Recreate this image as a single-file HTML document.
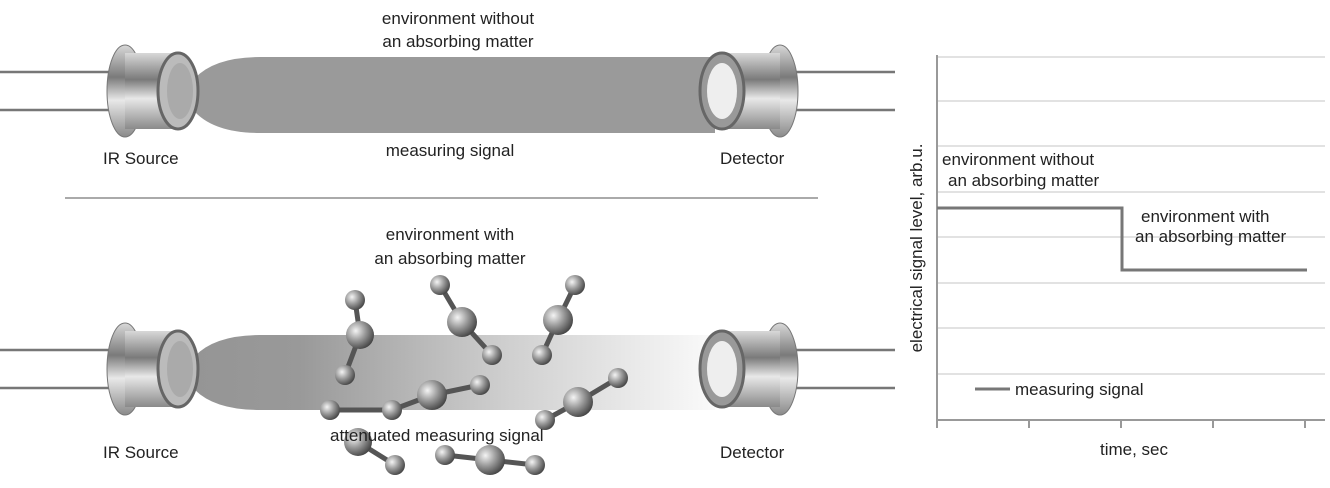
<!DOCTYPE html>
<html><head><meta charset="utf-8"><style>
html,body{margin:0;padding:0;background:#fff;}
svg{display:block;font-family:"Liberation Sans","DejaVu Sans",sans-serif;}
text{fill:#222;font-size:17px;}
</style></head><body>
<svg width="1330" height="488" viewBox="0 0 1330 488" xmlns="http://www.w3.org/2000/svg">
<defs>
<linearGradient id="metal" x1="0" y1="0" x2="0" y2="1">
<stop offset="0" stop-color="#d8d8d8"/><stop offset="0.35" stop-color="#7a7a7a"/><stop offset="0.6" stop-color="#e8e8e8"/><stop offset="1" stop-color="#8a8a8a"/></linearGradient>
<linearGradient id="fade" x1="0" y1="0" x2="1" y2="0">
<stop offset="0" stop-color="#959595"/><stop offset="0.2" stop-color="#999"/><stop offset="0.6" stop-color="#cfcfcf"/><stop offset="1" stop-color="#fafafa"/></linearGradient>
<radialGradient id="ball" cx="0.35" cy="0.35" r="0.7">
<stop offset="0" stop-color="#f4f4f4"/><stop offset="0.5" stop-color="#999"/><stop offset="1" stop-color="#444"/></radialGradient>
<g id="src">
<line x1="0" y1="-19" x2="110" y2="-19" stroke="#777" stroke-width="2.5"/>
<line x1="0" y1="19" x2="110" y2="19" stroke="#777" stroke-width="2.5"/>
<ellipse cx="125" cy="0" rx="18" ry="46" fill="url(#metal)" stroke="#777"/>
<rect x="125" y="-38" width="48" height="76" fill="url(#metal)"/>
<ellipse cx="178" cy="0" rx="20" ry="38" fill="#bbb" stroke="#666" stroke-width="3"/>
<ellipse cx="180" cy="0" rx="13" ry="28" fill="#aaa"/>
</g>
<g id="det">
<line x1="790" y1="-19" x2="895" y2="-19" stroke="#777" stroke-width="2.5"/>
<line x1="790" y1="19" x2="895" y2="19" stroke="#777" stroke-width="2.5"/>
<ellipse cx="780" cy="0" rx="18" ry="46" fill="url(#metal)" stroke="#777"/>
<rect x="722" y="-38" width="58" height="76" fill="url(#metal)"/>
<ellipse cx="722" cy="0" rx="22" ry="38" fill="#999" stroke="#666" stroke-width="3"/>
<ellipse cx="722" cy="0" rx="15" ry="28" fill="#eee"/>
</g>
</defs>
<path d="M195,78 Q215,57 260,57 L715,57 L715,133 L260,133 Q215,133 195,112 Z" fill="#9a9a9a"/>
<use href="#src" y="91"/>
<use href="#det" y="91"/>
<text x="458" y="24" text-anchor="middle">environment without</text>
<text x="458" y="47" text-anchor="middle">an absorbing matter</text>
<text x="450" y="156" text-anchor="middle">measuring signal</text>
<text x="103" y="164">IR Source</text>
<text x="720" y="164">Detector</text>
<line x1="65" y1="198" x2="818" y2="198" stroke="#aaa" stroke-width="2"/>
<path d="M195,356 Q215,335 260,335 L715,335 L715,410 L260,410 Q215,410 195,390 Z" fill="url(#fade)"/>
<use href="#src" y="369"/>
<use href="#det" y="369"/>
<text x="450" y="240" text-anchor="middle">environment with</text>
<text x="450" y="264" text-anchor="middle">an absorbing matter</text>
<text x="103" y="458">IR Source</text>
<text x="720" y="458">Detector</text>
<g stroke="#555" stroke-width="5">
<line x1="355" y1="300" x2="360" y2="335"/><line x1="360" y1="335" x2="345" y2="375"/>
<line x1="440" y1="285" x2="462" y2="322"/><line x1="462" y1="322" x2="492" y2="355"/>
<line x1="575" y1="285" x2="558" y2="320"/><line x1="558" y1="320" x2="542" y2="355"/>
<line x1="330" y1="410" x2="392" y2="410"/><line x1="392" y1="410" x2="432" y2="395"/><line x1="432" y1="395" x2="480" y2="385"/>
<line x1="545" y1="420" x2="578" y2="402"/><line x1="578" y1="402" x2="618" y2="378"/>
<line x1="358" y1="442" x2="395" y2="465"/>
<line x1="445" y1="455" x2="490" y2="460"/><line x1="490" y1="460" x2="535" y2="465"/>
</g>
<g fill="url(#ball)">
<circle cx="355" cy="300" r="10"/><circle cx="360" cy="335" r="14"/><circle cx="345" cy="375" r="10"/>
<circle cx="440" cy="285" r="10"/><circle cx="462" cy="322" r="15"/><circle cx="492" cy="355" r="10"/>
<circle cx="575" cy="285" r="10"/><circle cx="558" cy="320" r="15"/><circle cx="542" cy="355" r="10"/>
<circle cx="330" cy="410" r="10"/><circle cx="392" cy="410" r="10"/><circle cx="432" cy="395" r="15"/><circle cx="480" cy="385" r="10"/>
<circle cx="545" cy="420" r="10"/><circle cx="578" cy="402" r="15"/><circle cx="618" cy="378" r="10"/>
<circle cx="358" cy="442" r="14"/><circle cx="395" cy="465" r="10"/>
<circle cx="445" cy="455" r="10"/><circle cx="490" cy="460" r="15"/><circle cx="535" cy="465" r="10"/>
</g>
<text x="330" y="441">attenuated measuring signal</text>
<g stroke="#e2e2e2" stroke-width="2">
<line x1="937" y1="57" x2="1325" y2="57"/><line x1="937" y1="101" x2="1325" y2="101"/>
<line x1="937" y1="146" x2="1325" y2="146"/><line x1="937" y1="192" x2="1325" y2="192"/>
<line x1="937" y1="237" x2="1325" y2="237"/><line x1="937" y1="283" x2="1325" y2="283"/>
<line x1="937" y1="328" x2="1325" y2="328"/><line x1="937" y1="374" x2="1325" y2="374"/>
</g>
<g stroke="#999" stroke-width="2">
<line x1="937" y1="55" x2="937" y2="428"/><line x1="937" y1="420" x2="1325" y2="420"/>
<line x1="1029" y1="420" x2="1029" y2="428"/><line x1="1121" y1="420" x2="1121" y2="428"/>
<line x1="1213" y1="420" x2="1213" y2="428"/><line x1="1305" y1="420" x2="1305" y2="428"/>
</g>
<polyline points="937,208 1122,208 1122,270 1307,270" fill="none" stroke="#777" stroke-width="3"/>
<line x1="975" y1="389" x2="1010" y2="389" stroke="#777" stroke-width="3"/>
<text x="1015" y="395" font-size="16">measuring signal</text>
<text x="942" y="165" font-size="16">environment without</text>
<text x="948" y="186" font-size="16">an absorbing matter</text>
<text x="1141" y="222" font-size="16">environment with</text>
<text x="1135" y="242" font-size="16">an absorbing matter</text>
<text x="1100" y="455" font-size="16">time, sec</text>
<text transform="translate(922,248) rotate(-90)" text-anchor="middle" font-size="18">electrical signal level, arb.u.</text>
</svg>
</body></html>
